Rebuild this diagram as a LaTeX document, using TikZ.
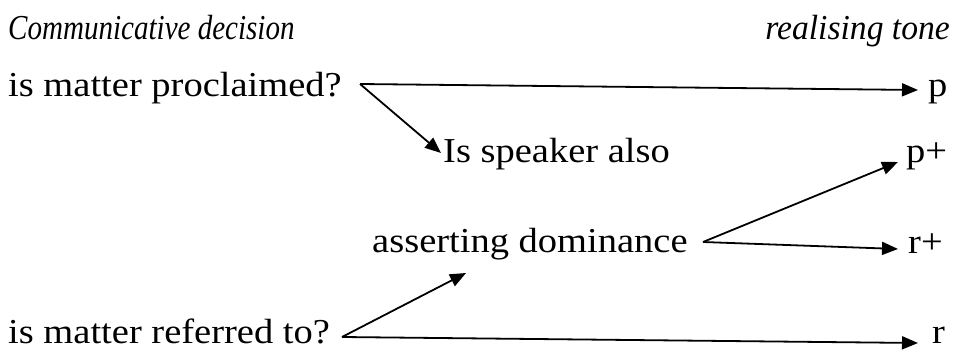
\documentclass[tikz,border=0pt]{standalone}
\usepackage{fontspec}
\setmainfont{Liberation Serif}
\newfontfamily\romfont[FakeStretch=1.1]{Liberation Serif}
\newfontfamily\itfont[FakeStretch=0.83]{Liberation Serif Italic}
\newfontfamily\itwfont[FakeStretch=0.96]{Liberation Serif Italic}
\usetikzlibrary{arrows.meta}
\begin{document}
\begin{tikzpicture}[x=1pt,y=-1pt,
  lbl/.style={inner sep=0pt,font=\fontsize{35}{42}\selectfont\romfont},
  conn/.style={line width=1.8pt,-{Triangle[length=16pt,width=13pt]}}]
\useasboundingbox (0,0) rectangle (955,352);
\node[lbl,anchor=base west,font=\fontsize{35}{42}\selectfont\itfont] (hd1) at (8,40) {Communicative decision};
\node[lbl,anchor=base east,font=\fontsize{35}{42}\selectfont\itwfont] (hd2) at (950,40) {realising tone};
\node[lbl,anchor=base west] (q1) at (8,97) {is matter proclaimed?};
\node[lbl,anchor=base west] (tp) at (928,97) {p};
\node[lbl,anchor=base west] (q2) at (443,163) {Is speaker also};
\node[lbl,anchor=base west] (tpp) at (906,163) {p+};
\node[lbl,anchor=base west] (q3) at (372,253) {asserting dominance};
\node[lbl,anchor=base west] (trp) at (908,254) {r+};
\node[lbl,anchor=base west] (q4) at (8,343) {is matter referred to?};
\node[lbl,anchor=base west] (tr) at (932,343) {r};
\coordinate (s1) at (360,84);
\coordinate (s2) at (703,242);
\coordinate (s3) at (342,337);
\draw[conn] (s1) -- ([xshift=-10pt]tp.west |- 0,90);
\draw[conn] (s1) -- ([xshift=-2pt]q2.west |- 0,153);
\draw[conn] (s2) -- ([xshift=-8pt]tpp.west |- 0,162);
\draw[conn] (s2) -- ([xshift=-10pt]trp.west |- 0,249);
\draw[conn] (s3) -- (466,273);
\draw[conn] (s3) -- ([xshift=-14pt]tr.west |- 0,343);
\end{tikzpicture}
\end{document}
